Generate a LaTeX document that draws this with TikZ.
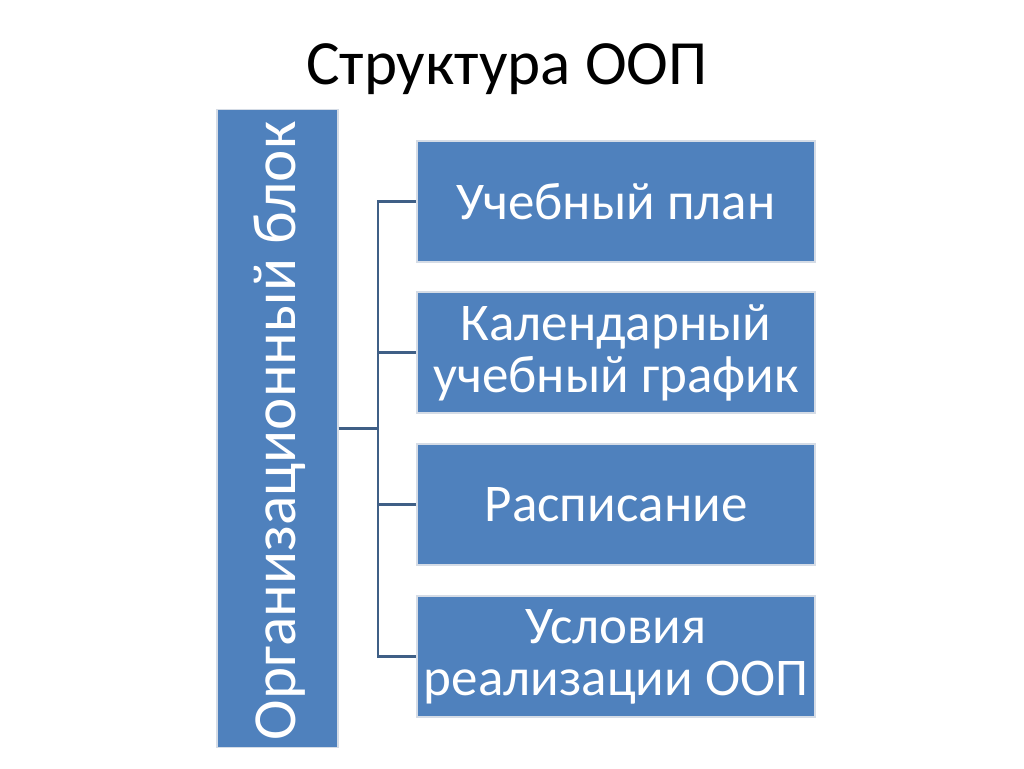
\documentclass[tikz,border=0pt]{standalone}
\usepackage{fontspec}
\setmainfont{Carlito}
\definecolor{boxblue}{HTML}{4F81BD}
\definecolor{linecol}{HTML}{3F5F86}
\definecolor{edgecol}{HTML}{D5DCE6}
\begin{document}
\begin{tikzpicture}[x=1pt,y=-1pt,
  box/.style={draw=edgecol,line width=1.2pt,fill=boxblue,text=white,inner sep=0pt,align=center,font=\fontsize{53}{52}\selectfont},
  conn/.style={draw=linecol,line width=2.2pt}]
\useasboundingbox (0,0) rectangle (1024,768);
\node (title) at (507,69) {\fontsize{63}{70}\selectfont Структура ООП};
\node[box,minimum width=121pt,minimum height=638pt] (org) at (277.5,428.5) {};
\node[rotate=90,anchor=base,text=white,inner sep=0pt,font=\fontsize{61.2}{66}\selectfont] (orgt) at (295,431) {Организационный блок};
\node[box,minimum width=398pt,minimum height=121pt] (b1) at (616,201.5) {Учебный план};
\node[box,minimum width=398pt,minimum height=121pt] (b2) at (616,352.5) {Календарный\\учебный график};
\node[box,minimum width=398pt,minimum height=121pt] (b3) at (616,504.5) {Расписание};
\node[box,minimum width=398pt,minimum height=121pt] (b4) at (616,656.5) {Условия\\реализации ООП};
\coordinate (j) at (378,428.5);
\draw[conn] (org.east) -- (j);
\draw[conn] (j) |- (b1.west);
\draw[conn] (j) |- (b2.west);
\draw[conn] (j) |- (b3.west);
\draw[conn] (j) |- (b4.west);
\end{tikzpicture}
\end{document}
